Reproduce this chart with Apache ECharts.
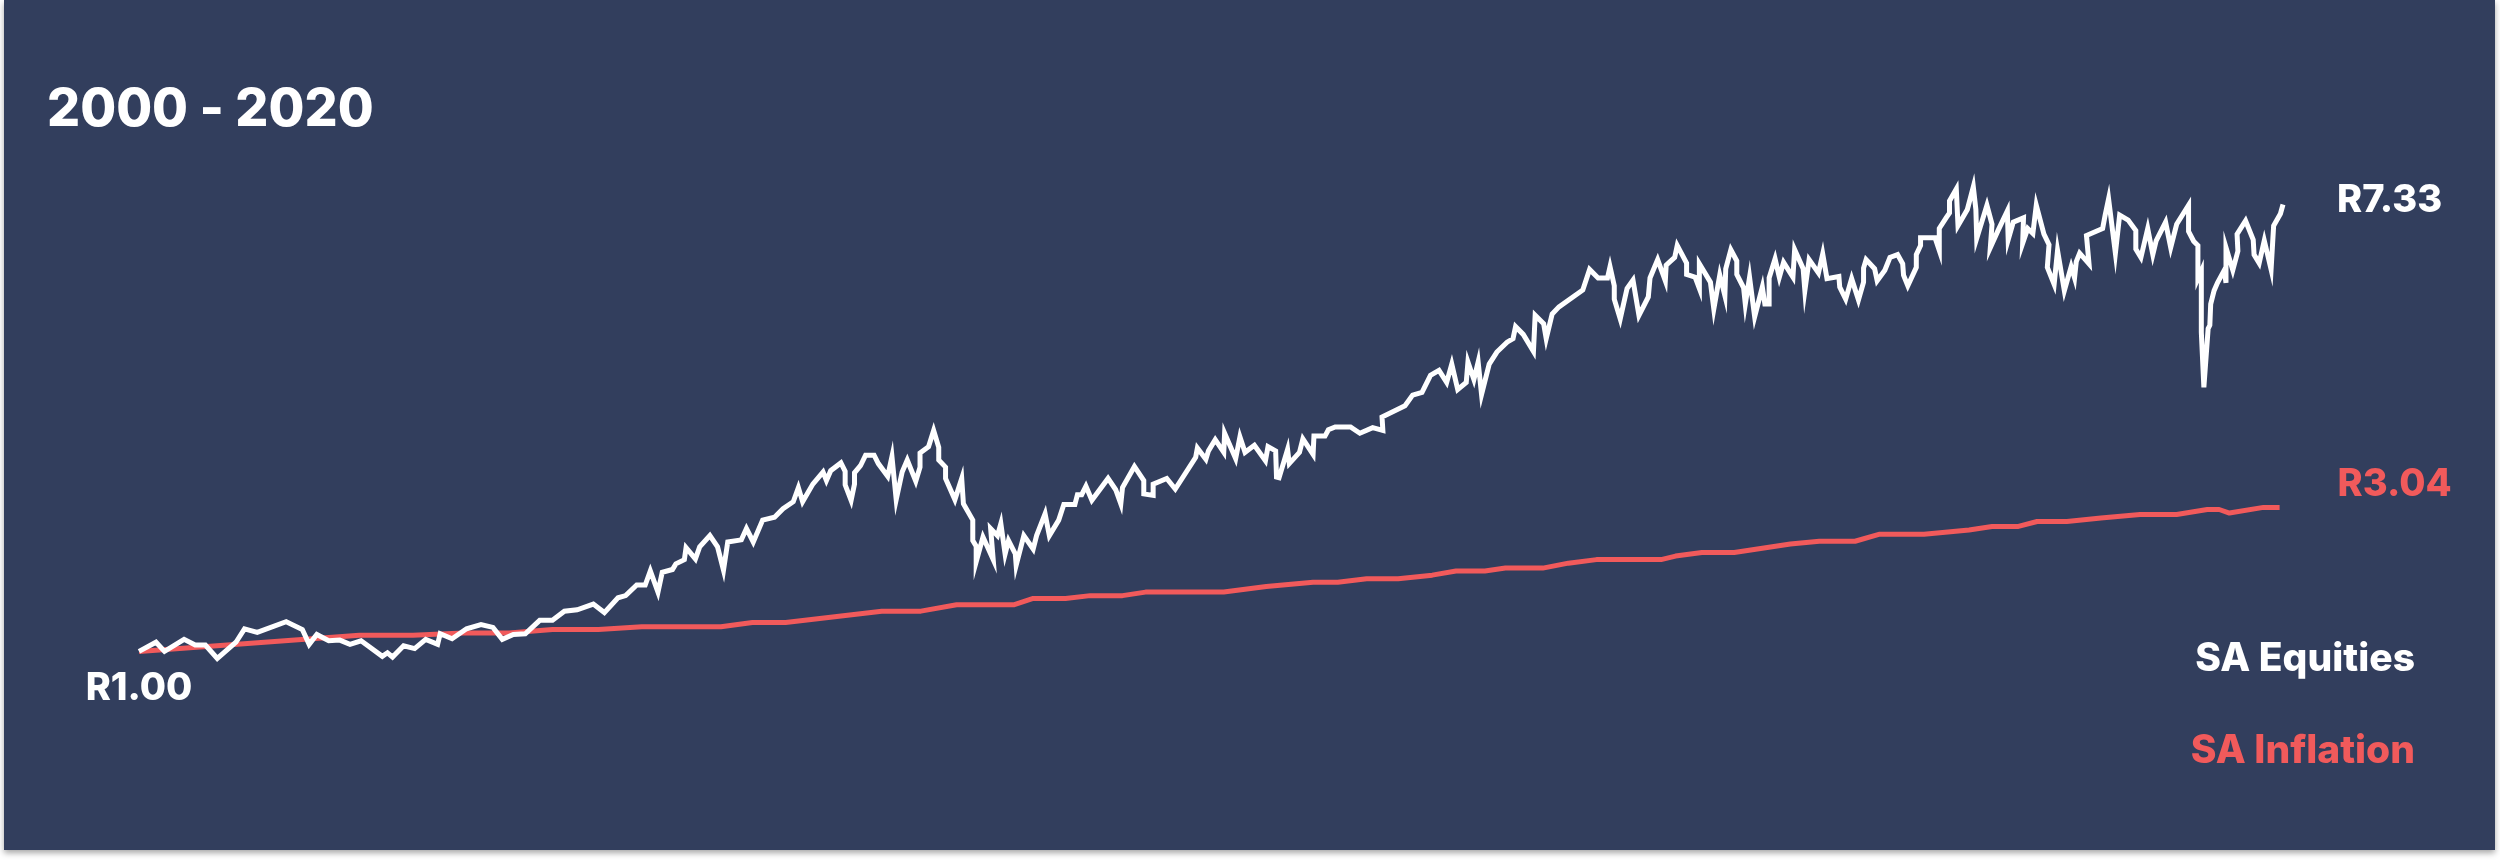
<!DOCTYPE html>
<html>
<head>
<meta charset="utf-8">
<title>SA Equities vs SA Inflation 2000 - 2020</title>
<script src="https://cdn.jsdelivr.net/npm/echarts@6/dist/echarts.min.js"></script>
<style>
    html, body { margin: 0; padding: 0; background: #ffffff; }
    #panel {
        position: absolute; left: 4px; top: 0; width: 2491px; height: 850px;
        background: #323e5d; box-shadow: 0 3px 6px rgba(0, 0, 0, 0.35);
    }
    #chart { position: absolute; left: 0; top: 0; width: 2500px; height: 861px; }
</style>
</head>
<body>
<div id="panel"></div>
<div id="chart"></div>
<script>
// growth of R1: [month since start, rand value]
var equities = [
    [0, 1.00], [2, 1.13], [3, 1.00], [5.3, 1.17], [6.6, 1.09], [7.8, 1.09], [9.2, 0.90], [11.4, 1.13],
    [12.4, 1.32], [13.9, 1.27], [17.3, 1.42], [19.2, 1.31], [20.0, 1.10], [20.9, 1.24], [22.3, 1.15],
    [23.6, 1.16], [24.8, 1.10], [26.1, 1.15], [28.6, 0.93], [29.2, 0.98], [29.8, 0.92], [31.1, 1.08],
    [32.4, 1.04], [33.7, 1.17], [35.1, 1.10], [35.4, 1.25], [36.8, 1.18], [38.5, 1.32], [40.2, 1.38],
    [41.6, 1.34], [42.7, 1.17], [44.0, 1.24], [45.4, 1.25], [47.1, 1.44], [48.6, 1.44], [50.0, 1.57],
    [51.5, 1.59], [53.4, 1.67], [54.7, 1.55], [56.3, 1.76], [57.2, 1.79], [58.5, 1.94], [59.5, 1.94],
    [60.1, 2.14], [61.0, 1.84], [61.5, 2.12], [62.7, 2.16], [63.1, 2.24], [64.1, 2.30], [64.3, 2.47],
    [65.4, 2.31], [65.9, 2.48], [67.1, 2.64], [68.0, 2.48], [68.7, 2.15], [69.2, 2.55], [70.8, 2.58],
    [71.4, 2.74], [72.2, 2.55], [73.3, 2.86], [74.7, 2.90], [75.7, 3.02], [76.9, 3.12], [77.5, 3.32],
    [78.0, 3.12], [79.2, 3.37], [80.4, 3.54], [80.8, 3.42], [81.3, 3.56], [82.5, 3.67], [83.0, 3.55],
    [83.0, 3.36], [83.7, 3.14], [84.1, 3.37], [84.1, 3.53], [84.8, 3.63], [85.4, 3.78], [86.4, 3.78],
    [86.9, 3.66], [88.0, 3.48], [88.5, 3.76], [89.0, 3.15], [89.7, 3.54], [90.3, 3.71], [91.3, 3.41],
    [91.8, 3.61], [91.8, 3.81], [92.8, 3.90], [93.4, 4.13], [94.0, 3.89], [94.0, 3.71], [94.8, 3.61],
    [94.8, 3.45], [95.9, 3.15], [96.7, 3.45], [96.9, 3.09], [98.0, 2.86], [98.0, 2.57], [98.4, 2.49],
    [98.4, 2.27], [99.2, 2.62], [100.4, 2.30], [100.1, 2.74], [100.9, 2.64], [101.3, 2.81], [101.8, 2.38],
    [102.2, 2.57], [103.0, 2.38], [103.1, 2.22], [104.0, 2.64], [105.1, 2.45], [105.5, 2.64], [106.5, 2.95],
    [107.0, 2.64], [108.1, 2.86], [108.7, 3.08], [110.0, 3.08], [110.3, 3.22], [110.8, 3.22], [111.3, 3.34],
    [112.0, 3.14], [113.9, 3.45], [114.8, 3.29], [115.4, 3.09], [115.6, 3.32], [117.0, 3.62], [118.1, 3.42],
    [118.1, 3.23], [119.2, 3.21], [119.2, 3.37], [120.8, 3.45], [121.8, 3.30], [124.2, 3.75], [124.4, 3.88],
    [125.4, 3.72], [125.7, 3.84], [126.5, 4.00], [127.5, 3.82], [127.6, 4.09], [128.9, 3.73], [129.4, 4.04],
    [130.0, 3.82], [131.1, 3.92], [132.4, 3.70], [132.7, 3.90], [133.6, 3.84], [133.7, 3.47], [134.0, 3.46],
    [135.0, 3.86], [135.2, 3.66], [136.4, 3.82], [136.8, 4.01], [138.0, 3.79], [138.1, 4.05], [139.4, 4.05],
    [139.8, 4.14], [140.6, 4.18], [142.4, 4.18], [143.5, 4.09], [145.0, 4.17], [146.2, 4.13], [146.1, 4.32],
    [148.8, 4.48], [149.7, 4.63], [150.8, 4.67], [151.8, 4.91], [152.8, 4.98], [153.7, 4.81], [154.3, 5.07],
    [155.0, 4.71], [156.0, 4.81], [156.2, 5.10], [156.9, 4.85], [157.4, 5.10], [157.8, 4.64], [158.7, 5.07],
    [159.6, 5.24], [160.8, 5.38], [161.5, 5.43], [161.8, 5.60], [162.7, 5.49], [163.9, 5.25], [164.1, 5.76],
    [165.1, 5.64], [165.4, 5.43], [166.1, 5.78], [166.9, 5.88], [169.7, 6.12], [170.5, 6.41], [171.5, 6.29],
    [172.6, 6.29], [172.9, 6.45], [173.4, 6.18], [173.4, 5.99], [174.1, 5.71], [174.9, 6.14], [175.6, 6.26],
    [176.3, 5.76], [177.4, 6.02], [177.6, 6.29], [178.5, 6.55], [179.4, 6.25], [179.5, 6.47], [180.5, 6.58],
    [180.8, 6.75], [181.9, 6.50], [181.9, 6.34], [182.9, 6.30], [183.4, 6.14], [183.4, 6.49], [184.7, 6.23],
    [185.1, 5.85], [185.8, 6.33], [186.4, 6.04], [186.5, 6.42], [187.1, 6.69], [187.8, 6.53], [187.8, 6.34],
    [188.6, 6.15], [188.8, 5.92], [189.3, 6.30], [189.9, 5.74], [190.8, 6.16], [191.1, 5.92], [191.6, 5.92],
    [191.6, 6.29], [192.3, 6.56], [192.8, 6.30], [193.3, 6.51], [194.4, 6.30], [194.6, 6.69], [195.6, 6.42],
    [195.8, 6.11], [196.3, 6.55], [197.4, 6.36], [197.9, 6.63], [198.4, 6.28], [199.8, 6.31], [199.9, 6.16],
    [200.6, 5.99], [201.3, 6.28], [202.1, 5.98], [202.7, 6.23], [202.7, 6.43], [203.0, 6.55], [204.0, 6.42],
    [204.3, 6.25], [205.2, 6.40], [205.8, 6.58], [206.7, 6.62], [207.3, 6.49], [207.4, 6.33], [207.9, 6.18],
    [208.9, 6.44], [208.9, 6.62], [209.4, 6.75], [209.4, 6.86], [211.1, 6.86], [211.6, 6.68], [211.6, 6.99],
    [212.4, 7.14], [212.8, 7.21], [212.8, 7.38], [213.6, 7.55], [213.8, 7.03], [214.9, 7.26], [215.6, 7.58],
    [215.9, 7.26], [216.0, 6.85], [217.2, 7.32], [217.8, 7.05], [217.6, 6.72], [218.5, 6.96], [219.6, 7.24],
    [219.7, 6.83], [220.3, 7.08], [221.5, 7.14], [221.4, 6.78], [222.0, 6.99], [222.6, 6.92], [223.0, 7.32],
    [223.9, 6.91], [224.5, 6.76], [224.3, 6.44], [225.1, 6.20], [225.5, 6.68], [226.3, 6.11], [227.1, 6.45],
    [227.5, 6.29], [227.7, 6.52], [228.1, 6.64], [229.2, 6.49], [228.9, 6.89], [230.8, 6.99], [231.1, 7.18],
    [231.5, 7.41], [232.3, 6.64], [232.8, 7.18], [233.8, 7.11], [234.7, 6.96], [234.7, 6.70], [235.3, 6.58],
    [236.1, 6.99], [236.7, 6.62], [237.1, 6.82], [238.2, 7.08], [238.8, 6.72], [239.5, 7.05], [240.9, 7.32],
    [240.9, 6.95], [241.5, 6.81], [242.0, 6.75], [242.0, 6.28], [242.4, 6.39], [242.4, 5.52], [242.7, 4.74],
    [243.2, 5.57], [243.4, 5.62], [243.5, 5.92], [243.9, 6.11], [244.3, 6.22], [245.1, 6.40], [245.3, 6.22],
    [245.3, 6.72], [246.1, 6.40], [246.7, 6.67], [246.6, 6.91], [247.6, 7.10], [248.5, 6.83], [248.6, 6.62],
    [249.2, 6.50], [249.8, 6.82], [250.6, 6.41], [250.9, 7.03], [251.7, 7.20], [252.0, 7.33]
];

var inflation = [
    [0, 1.00], [25.9, 1.23], [32.2, 1.23], [38.1, 1.26], [43.5, 1.26], [48.6, 1.31], [54.0, 1.31],
    [59.1, 1.35], [68.4, 1.35], [72.1, 1.41], [76.0, 1.41], [87.3, 1.57], [91.9, 1.57], [96.1, 1.66],
    [102.8, 1.66], [105.1, 1.75], [108.9, 1.75], [111.8, 1.79], [115.6, 1.79], [118.3, 1.84], [127.5, 1.84],
    [132.5, 1.92], [138.0, 1.98], [140.9, 1.98], [144.3, 2.03], [148.0, 2.03], [152.0, 2.08], [154.8, 2.14],
    [158.2, 2.14], [160.6, 2.18], [165.0, 2.18], [168.0, 2.25], [171.3, 2.30], [178.9, 2.30], [180.6, 2.35],
    [183.7, 2.40], [187.5, 2.40], [194.1, 2.52], [197.5, 2.56], [201.7, 2.56], [204.6, 2.66], [209.8, 2.66],
    [215.1, 2.72], [217.8, 2.77], [220.9, 2.77], [223.1, 2.84], [226.6, 2.84], [230.6, 2.89], [235.2, 2.94],
    [239.5, 2.94], [243.1, 3.01], [244.5, 3.01], [245.7, 2.96], [249.7, 3.04], [251.6, 3.04]
];

var seriesNames = ['SA Equities', 'SA Inflation'];
var periodLabel = '2000 - 2020';

var white = '#ffffff',
    red = '#f15a5b',
    font = 'Inter',
    heavy = 800;

function rand(v) {
    return 'R' + v.toFixed(2);
}

var myChart = echarts.init(document.getElementById('chart'));

var option = {
    animation: false,
    backgroundColor: 'transparent',
    textStyle: { fontFamily: font },
    title: {
        text: periodLabel,
        left: 47,
        top: 84,
        padding: 0,
        textStyle: { color: white, fontSize: 52, fontWeight: heavy, fontFamily: font }
    },
    legend: {
        orient: 'vertical',
        right: 80,
        top: 640,
        padding: 0,
        align: 'right',
        icon: 'none',
        itemWidth: 0,
        itemHeight: 38,
        itemGap: 53,
        selectedMode: false,
        textStyle: { fontSize: 39, fontWeight: heavy, fontFamily: font },
        data: [
            { name: seriesNames[0], textStyle: { color: white } },
            { name: seriesNames[1], textStyle: { color: red } }
        ]
    },
    grid: {
        left: 139,
        right: 217,
        top: 16,
        bottom: 139
    },
    xAxis: {
        type: 'value',
        min: 0,
        max: 252,
        show: false
    },
    yAxis: {
        type: 'value',
        min: 0,
        max: 10,
        show: false
    },
    series: [
        {
            name: seriesNames[1],
            type: 'line',
            data: inflation,
            showSymbol: false,
            lineStyle: { color: red, width: 5 },
            itemStyle: { color: red },
            endLabel: {
                show: true,
                distance: 0,
                offset: [58, -23],
                color: red,
                fontSize: 38,
                fontWeight: heavy,
                fontFamily: font,
                formatter: function(p) { return rand(p.value[1]); }
            },
            z: 2
        },
        {
            name: seriesNames[0],
            type: 'line',
            data: equities,
            showSymbol: false,
            lineStyle: { color: white, width: 5, join: 'miter' },
            itemStyle: { color: white },
            endLabel: {
                show: true,
                distance: 0,
                offset: [54, -4],
                color: white,
                fontSize: 38,
                fontWeight: heavy,
                fontFamily: font,
                formatter: function(p) { return rand(p.value[1]); }
            },
            markPoint: {
                symbol: 'circle',
                symbolSize: 0,
                silent: true,
                label: {
                    show: true,
                    position: 'bottom',
                    distance: 18,
                    color: white,
                    fontSize: 38,
                    fontWeight: heavy,
                    fontFamily: font,
                    formatter: function(p) { return rand(p.value); }
                },
                data: [{ coord: equities[0], value: equities[0][1] }]
            },
            z: 3
        }
    ]
};

myChart.setOption(option);
</script>
</body>
</html>
